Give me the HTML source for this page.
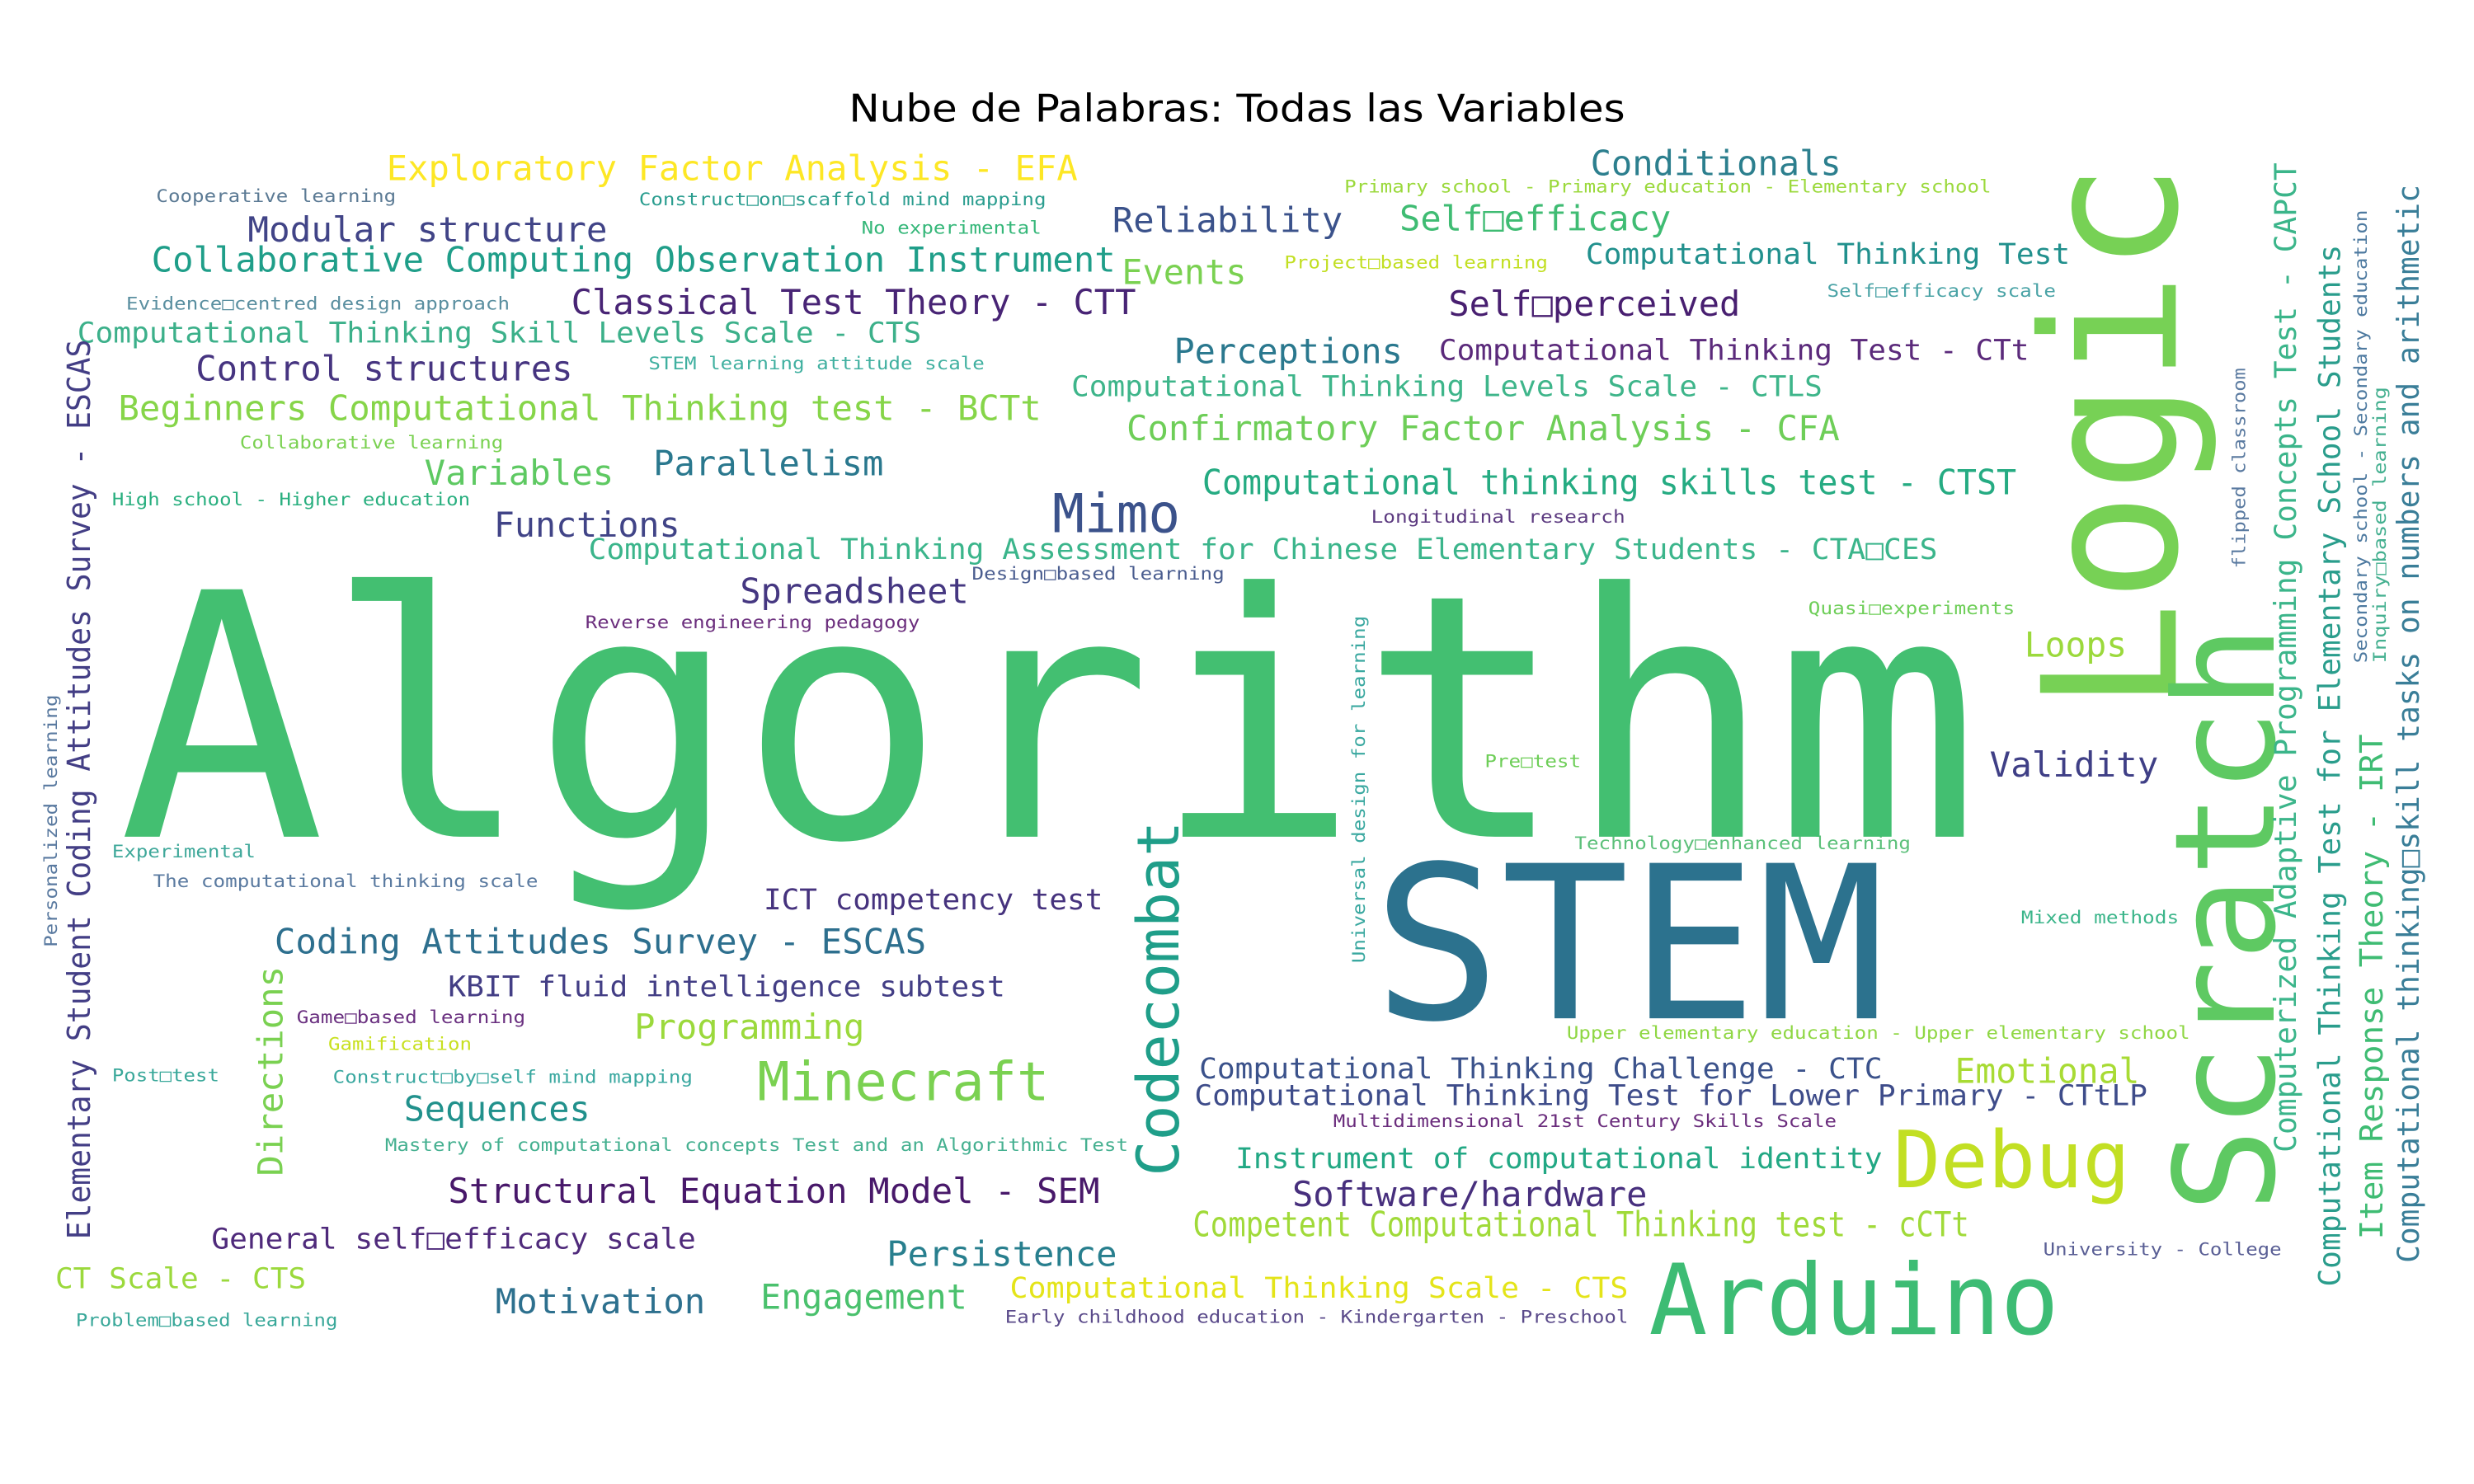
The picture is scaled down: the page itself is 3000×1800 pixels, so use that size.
<!DOCTYPE html>
<html>
<head>
<meta charset="utf-8">
<style>
  html,body{margin:0;padding:0;background:#fff;}
  svg{display:block;}
  .w{font-family:"DejaVu Sans Mono","Liberation Mono",monospace;}
</style>
</head>
<body>
<svg id="cloud" width="3000" height="1800" viewBox="0 0 1568 940" preserveAspectRatio="none" xmlns="http://www.w3.org/2000/svg">
  <rect width="1568" height="940" fill="#ffffff"/>
  <text x="538" y="77" textLength="492" lengthAdjust="spacingAndGlyphs" font-family="DejaVu Sans, Liberation Sans, sans-serif" font-size="24" fill="#000">Nube de Palabras: Todas las Variables</text>
</svg>
<script>
// horizontal words: [text, left, right, baseline, fontSize, color]
const hWords = [
["Exploratory Factor Analysis - EFA",245,683,114,22,"#fde725"],
["Cooperative learning",99,251,128,11,"#5b7a94"],
["Construct\u25a1on\u25a1scaffold mind mapping",405,663,130,11,"#2a9d8f"],
["Conditionals",1008,1167,111,22,"#2c7f8e"],
["Primary school - Primary education - Elementary school",852,1262,122,11,"#9bd93c"],
["Modular structure",157,385,153,22,"#414487"],
["No experimental",546,660,148,11,"#35b779"],
["Reliability",705,851,147,22,"#3b528b"],
["Self\u25a1efficacy",887,1059,146,22,"#3fbc73"],
["Collaborative Computing Observation Instrument",96,707,172,22,"#1f9e89"],
["Events",711,790,180,22,"#7ad151"],
["Project\u25a1based learning",814,981,170,11,"#c2df23"],
["Computational Thinking Test",1005,1312,167,18,"#21908d"],
["Evidence\u25a1centred design approach",80,323,196,11,"#5a8fa0"],
["Classical Test Theory - CTT",362,720,199,22,"#482475"],
["Self\u25a1efficacy scale",1158,1303,188,11,"#4aa3a6"],
["Self\u25a1perceived",918,1103,200,22,"#481f70"],
["Computational Thinking Skill Levels Scale - CTS",49,584,217,18,"#3cb08a"],
["STEM learning attitude scale",411,624,234,11,"#40b0a0"],
["Perceptions",744,889,230,22,"#2a788e"],
["Computational Thinking Test - CTt",912,1286,228,18,"#5b2a7b"],
["Control structures",124,363,241,22,"#463480"],
["Computational Thinking Levels Scale - CTLS",679,1155,251,18,"#3eb58a"],
["Beginners Computational Thinking test - BCTt",75,660,266,22,"#86d549"],
["Collaborative learning",152,319,284,11,"#7ad151"],
["Confirmatory Factor Analysis - CFA",714,1166,279,22,"#6ece58"],
["Variables",269,389,307,22,"#5ec962"],
["Parallelism",414,560,301,22,"#2a788e"],
["Computational thinking skills test - CTST",762,1278,313,22,"#25ab82"],
["High school - Higher education",71,298,320,11,"#29af7f"],
["Mimo",667,748,337,34,"#3b528b"],
["Longitudinal research",869,1030,331,11,"#5c3a80"],
["Functions",313,431,340,22,"#414487"],
["Computational Thinking Assessment for Chinese Elementary Students - CTA\u25a1CES",373,1228,354,18,"#3bb58b"],
["Design\u25a1based learning",616,776,367,11,"#4a5d8f"],
["Spreadsheet",469,614,382,22,"#453781"],
["Reverse engineering pedagogy",371,583,398,11,"#6b2e7d"],
["Quasi\u25a1experiments",1146,1277,389,11,"#6ece58"],
["Loops",1283,1348,416,22,"#9bd93c"],
["Validity",1261,1368,492,22,"#3f3f86"],
["Pre\u25a1test",941,1002,486,11,"#6ece58"],
["Experimental",71,162,543,11,"#3fa89a"],
["Technology\u25a1enhanced learning",998,1211,538,11,"#5cc07a"],
["The computational thinking scale",97,341,562,11,"#5a7aa0"],
["ICT competency test",484,699,576,18,"#46337e"],
["Mixed methods",1281,1381,585,11,"#3bb58a"],
["Coding Attitudes Survey - ESCAS",174,587,604,22,"#2d6f8e"],
["KBIT fluid intelligence subtest",284,637,631,18,"#433e85"],
["Game\u25a1based learning",188,333,648,11,"#6a3080"],
["Programming",402,548,658,22,"#9bd93c"],
["Upper elementary education - Upper elementary school",993,1388,658,11,"#8fd744"],
["Gamification",208,299,665,11,"#c8e020"],
["Minecraft",480,665,697,34,"#7ad151"],
["Computational Thinking Challenge - CTC",760,1193,683,18,"#3b528b"],
["Emotional",1239,1356,686,22,"#a8db34"],
["Post\u25a1test",71,139,685,11,"#3aa89a"],
["Construct\u25a1by\u25a1self mind mapping",211,439,686,11,"#3aa8a0"],
["Computational Thinking Test for Lower Primary - CTtLP",757,1361,700,18,"#3e4c8a"],
["Sequences",256,374,710,22,"#21918c"],
["Multidimensional 21st Century Skills Scale",845,1164,714,11,"#6a2c7c"],
["Mastery of computational concepts Test and an Algorithmic Test",244,715,729,11,"#45b090"],
["Instrument of computational identity",783,1193,740,18,"#22a884"],
["Debug",1200,1350,752,50,"#c2df23"],
["Structural Equation Model - SEM",284,697,762,22,"#48186a"],
["Software/hardware",819,1044,764,22,"#472f7d"],
["General self\u25a1efficacy scale",134,441,791,18,"#4f2a7b"],
["Competent Computational Thinking test - cCTt",756,1248,783,22,"#a0da39"],
["Persistence",562,708,802,22,"#287f8e"],
["University - College",1295,1446,795,11,"#5a5f95"],
["CT Scale - CTS",35,194,816,18,"#9bd93c"],
["Computational Thinking Scale - CTS",640,1032,822,18,"#e4e419"],
["Motivation",314,447,832,22,"#2d708e"],
["Engagement",482,613,829,22,"#4ac16d"],
["Arduino",1045,1305,845,62,"#3dbc74"],
["Problem\u25a1based learning",48,214,840,11,"#3aa89a"],
["Early childhood education - Kindergarten - Preschool",637,1032,838,11,"#5a4a8a"],
["Algorithm",75,1255,530,215,"#43bf71"],
["STEM",870,1195,645,135,"#2c728e"]
];
// vertical words (reading upward): [text, baselineX, bottomY, topY, fontSize, color]
const vWords = [
["Logic",1379,451,103,118,"#77d155"],
["Scratch",1441,768,396,88,"#5ec962"],
["Codecombat",747,745,520,37,"#1f9e89"],
["Directions",179,745,612,22,"#7ad151"],
["Elementary Student Coding Attitudes Survey - ESCAS",57,785,215,20,"#433e85"],
["Personalized learning",36,600,440,11,"#5a7aa0"],
["Universal design for learning",865,610,390,11,"#3aa8a0"],
["flipped classroom",1423,360,233,11,"#5a7aa0"],
["Computerized Adaptive Programming Concepts Test - CAPCT",1455,730,103,19,"#3bb58a"],
["Computational Thinking Test for Elementary School Students",1483,815,155,19,"#2a9d8c"],
["Item Response Theory - IRT",1510,785,465,20,"#3fbc73"],
["Secondary school - Secondary education",1500,420,133,11,"#4e7aa0"],
["Inquiry\u25a1based learning",1512,420,245,11,"#45b090"],
["Computational thinking\u25a1skill tasks on numbers and arithmetic",1533,800,117,19,"#3a7e98"]
];
const NS = "http://www.w3.org/2000/svg";
const svg = document.getElementById("cloud");
function slug(s){return "word-" + s.toLowerCase().replace(/[^a-z0-9]+/g,"-").replace(/^-|-$/g,"").slice(0,40);}
hWords.forEach(function(w){
  const t = document.createElementNS(NS,"text");
  t.setAttribute("class","w");
  t.setAttribute("x", w[1]);
  t.setAttribute("y", w[3]);
  t.setAttribute("font-size", w[4]);
  t.setAttribute("fill", w[5]);
  t.setAttribute("textLength", w[2]-w[1]);
  t.setAttribute("lengthAdjust","spacingAndGlyphs");
  
  
  t.textContent = w[0];
  svg.appendChild(t);
});
vWords.forEach(function(w){
  const t = document.createElementNS(NS,"text");
  t.setAttribute("class","w");
  t.setAttribute("x", w[1]);
  t.setAttribute("y", w[2]);
  t.setAttribute("font-size", w[4]);
  t.setAttribute("fill", w[5]);
  t.setAttribute("textLength", w[2]-w[3]);
  t.setAttribute("lengthAdjust","spacingAndGlyphs");
  t.setAttribute("transform","rotate(-90 "+w[1]+" "+w[2]+")");
  
  
  t.textContent = w[0];
  svg.appendChild(t);
});
</script>
</body>
</html>
